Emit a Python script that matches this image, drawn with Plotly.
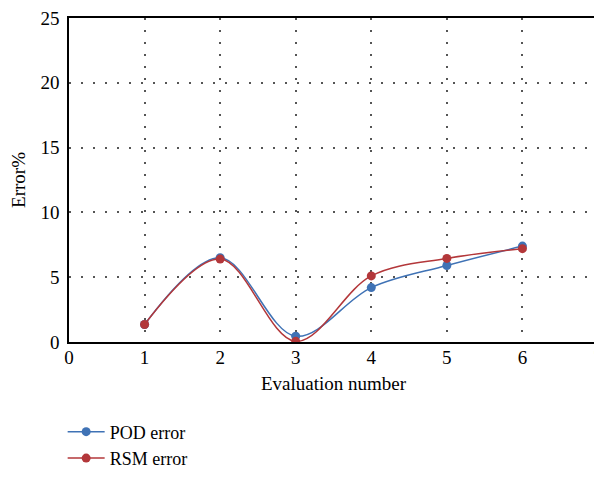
import plotly.graph_objects as go

evaluation = [1, 2, 3, 4, 5, 6]
pod_error = [1.35, 6.5, 0.45, 4.2, 5.9, 7.4]
rsm_error = [1.35, 6.4, 0.05, 5.1, 6.45, 7.2]

x_ticks = [0, 1, 2, 3, 4, 5, 6, 7]
y_ticks = [0, 5, 10, 15, 20, 25]

font_family = "Liberation Serif"

fig = go.Figure()
fig.add_trace(go.Scatter(
    x=evaluation, y=pod_error, name="POD error", mode="lines+markers",
    line=dict(color="#3f72b5", width=1.5, shape="spline", smoothing=1.0),
    marker=dict(color="#3f72b5", size=9),
))
fig.add_trace(go.Scatter(
    x=evaluation, y=rsm_error, name="RSM error", mode="lines+markers",
    line=dict(color="#b3373a", width=1.5, shape="spline", smoothing=1.0),
    marker=dict(color="#b3373a", size=9),
))

axis_common = dict(
    showline=True, linecolor="black", linewidth=1.5, mirror=True,
    showgrid=True, gridcolor="#555555", griddash="1.5px,10.5px", gridwidth=1.5,
    zeroline=False, ticks="", automargin=False, ticklabeloverflow="allow",
    tickfont=dict(family=font_family, size=19, color="black"),
)

# the page body adds a small offset; margins compensate for it
fig.update_layout(
    width=602, height=479,
    margin=dict(l=61, r=12, t=10, b=138),
    paper_bgcolor="white", plot_bgcolor="white",
    font=dict(family=font_family, size=18, color="black"),
    xaxis=dict(range=[0, 7], tickvals=x_ticks, ticklabelstandoff=-3,
               title=dict(text="Evaluation number", font=dict(size=19), standoff=10), **axis_common),
    yaxis=dict(range=[0, 25], tickvals=y_ticks, ticklabelstandoff=4,
               title=dict(text="Error%", font=dict(size=19), standoff=10), **axis_common),
    legend=dict(x=-0.012, y=-0.415, xanchor="left", yanchor="bottom", orientation="v",
                font=dict(family=font_family, size=18), tracegroupgap=0, itemwidth=37),
    showlegend=True,
)

fig.write_html("out.html")
